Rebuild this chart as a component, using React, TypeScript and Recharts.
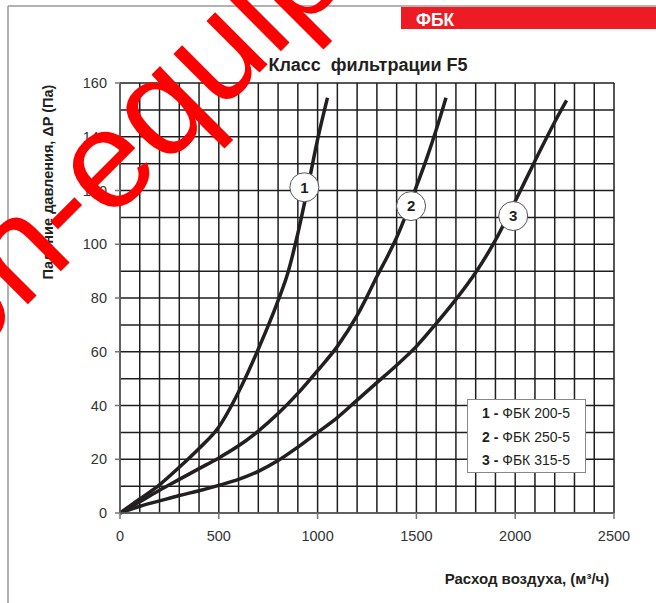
import { LineChart, Line, XAxis, YAxis, CartesianGrid, ReferenceDot } from "recharts"

const FONT = "'Liberation Sans', Arial, sans-serif"
const INK = "#231f20"

// curve 1 - ФБК 200-5
const FLOW_1 = [0, 100, 200, 300, 400, 500, 600, 700, 800, 850, 900, 950, 1000, 1050]
const DP_1 = [0, 5.2, 10.5, 17, 24, 32, 45, 61, 79, 89.5, 104, 121, 139, 154.5]

// curve 2 - ФБК 250-5
const FLOW_2 = [0, 100, 200, 300, 400, 500, 600, 700, 800, 900, 1000, 1100, 1200, 1250, 1300, 1350, 1400, 1450, 1500, 1550, 1600, 1650]
const DP_2 = [0, 4.2, 8.5, 12.5, 16.5, 20.5, 25, 30.5, 37, 44.5, 53, 62, 73.5, 80.5, 88, 95, 102.5, 111.5, 121.5, 131.5, 142.5, 154.5]

// curve 3 - ФБК 315-5
const FLOW_3 = [0, 100, 200, 300, 400, 500, 600, 700, 800, 900, 1000, 1100, 1200, 1300, 1400, 1500, 1600, 1700, 1800, 1900, 2000, 2100, 2200, 2260]
const DP_3 = [0, 2.5, 4.5, 6.5, 8.3, 10.3, 12.5, 15.5, 19.5, 24.5, 30, 35.5, 42, 48.5, 55, 62, 70.5, 79.5, 89.5, 101.5, 116, 131, 145.5, 153.5]

const SERIES_IDS = ["1", "2", "3"]
const SERIES_NAMES = ["ФБК 200-5", "ФБК 250-5", "ФБК 315-5"]

// where the numbered circles sit on each curve
const CALLOUT_FLOW = [933, 1473, 1990]
const CALLOUT_DP = [121.2, 114.2, 110.5]

const X_MAX = 2500
const Y_MAX = 160
const X_TICKS = [0, 500, 1000, 1500, 2000, 2500]
const Y_TICKS = [0, 20, 40, 60, 80, 100, 120, 140, 160]
const GRID_X = Array.from({ length: 26 }, (_, i) => i * 100)
const GRID_Y = Array.from({ length: 17 }, (_, i) => i * 10)

const toPoints = (flow: number[], dp: number[]) => flow.map((q, i) => ({ q, dp: dp[i] }))

const series = [
  toPoints(FLOW_1, DP_1),
  toPoints(FLOW_2, DP_2),
  toPoints(FLOW_3, DP_3),
]

const tickStyle = { fill: "#333", fontSize: 14.5, fontFamily: FONT }

const applyScale = (scale: any, v: number, fallback: number) => {
  if (typeof scale === "function") return scale(v)
  if (scale && typeof scale.map === "function") return scale.map(v)
  return fallback
}

// grid every 100 m3/h and every 10 Pa
const gridX = ({ xAxis, offset }: any) =>
  GRID_X.map(v => applyScale(xAxis?.scale, v, offset.left + (v / X_MAX) * offset.width))
const gridY = ({ yAxis, offset }: any) =>
  GRID_Y.map(v => applyScale(yAxis?.scale, v, offset.top + offset.height - (v / Y_MAX) * offset.height))

export default function App() {
  return (
    <div style={{ position: "absolute", left: 0, top: 0, width: 656, height: 603, background: "#fff", fontFamily: FONT }}>
      <LineChart width={656} height={603} margin={{ top: 83, right: 42, bottom: 60, left: 60 }}>
        <CartesianGrid
          stroke="#1e1e1e"
          strokeWidth={1.5}
          verticalCoordinatesGenerator={gridX}
          horizontalCoordinatesGenerator={gridY}
        />
        <XAxis
          type="number"
          dataKey="q"
          domain={[0, X_MAX]}
          ticks={X_TICKS}
          height={30}
          tickSize={6}
          tickMargin={12}
          axisLine={{ stroke: "#666", strokeWidth: 1.5 }}
          tickLine={{ stroke: "#777", strokeWidth: 1.5 }}
          tick={tickStyle}
        />
        <YAxis
          type="number"
          domain={[0, Y_MAX]}
          ticks={Y_TICKS}
          width={60}
          tickSize={5}
          tickMargin={8}
          axisLine={{ stroke: "#666", strokeWidth: 1.5 }}
          tickLine={{ stroke: "#777", strokeWidth: 1.5 }}
          tick={tickStyle}
        />
        {series.map((data, i) => (
          <Line
            key={SERIES_IDS[i]}
            data={data}
            dataKey="dp"
            type="monotone"
            stroke={INK}
            strokeWidth={3.5}
            dot={false}
            isAnimationActive={false}
          />
        ))}
        {SERIES_IDS.map((id, i) => (
          <ReferenceDot
            key={"c" + id}
            x={CALLOUT_FLOW[i]}
            y={CALLOUT_DP[i]}
            r={14.5}
            fill="#fff"
            stroke="#555"
            strokeWidth={1}
            label={{ value: id, position: "center", fill: INK, fontSize: 15, fontWeight: 700, fontFamily: FONT }}
          />
        ))}
      </LineChart>

      <div
        style={{
          position: "absolute",
          left: 467,
          top: 399,
          width: 117,
          height: 70,
          border: "1.5px solid #888",
          background: "#fff",
          boxSizing: "content-box",
          fontSize: 14,
          color: INK,
          paddingTop: 2,
        }}
      >
        {SERIES_IDS.map((id, i) => (
          <div key={id} style={{ height: 23.5, lineHeight: "23.5px", paddingLeft: 14, whiteSpace: "pre" }}>
            <b>{id} -</b> {SERIES_NAMES[i]}
          </div>
        ))}
      </div>

      <svg width={656} height={603} style={{ position: "absolute", left: 0, top: 0, pointerEvents: "none" }}>
        <line x1={8} y1={6} x2={656} y2={6} stroke="#999" strokeWidth={1.5} />
        <line x1={8} y1={6} x2={8} y2={603} stroke="#999" strokeWidth={1.5} />
        <rect x={401} y={7} width={255} height={22} fill="#ed1c24" />
        <text x={416} y={26} fill="#fff" fontSize={17.5} fontWeight={700} fontFamily={FONT}>ФБК</text>
        <text x={368} y={71} textAnchor="middle" fill={INK} fontSize={18} fontWeight={700} fontFamily={FONT} style={{ whiteSpace: "pre" }}>
          {"Класс  фильтрации F5"}
        </text>
        <text
          transform="translate(53,182) rotate(-90)"
          textAnchor="middle"
          fill={INK}
          fontSize={14.5}
          fontWeight={700}
          fontFamily={FONT}
        >
          Падение давления, ΔP (Па)
        </text>
        <text x={527} y={584} textAnchor="middle" fill={INK} fontSize={15} fontWeight={700} fontFamily={FONT}>
          Расход воздуха, (м³/ч)
        </text>
        <text x={-34} y={366} transform="rotate(-45 -34 366)" fill="#ff0000" fontSize={140} fontFamily={FONT}>
          on-equip
        </text>
      </svg>
    </div>
  )
}
